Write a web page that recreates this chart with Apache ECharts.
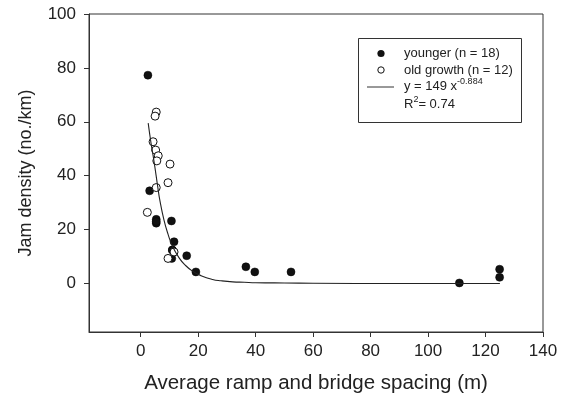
<!DOCTYPE html>
<html>
<head>
<meta charset="utf-8">
<script src="https://cdn.jsdelivr.net/npm/echarts@6/dist/echarts.min.js"></script>
<style>
html,body{margin:0;padding:0;background:#fff;}
#chart{width:566px;height:399px;}
</style>
</head>
<body>
<div id="chart"></div>
<script>
// ---- data ----
var youngerX = [2.5, 3.1, 5.4, 5.4, 5.4, 10.7, 11.6, 11.0, 11.0, 10.8, 16.0, 19.2, 36.6, 39.7, 52.3, 110.9, 124.9, 124.9];
var youngerY = [77.3, 34.4, 23.8, 22.4, 23.0, 23.2, 15.5, 12.4, 12.4, 9.3, 10.3, 4.3, 6.2, 4.3, 4.3, 0.2, 5.3, 2.3];
var oldX = [5.4, 5.0, 4.3, 5.2, 6.1, 5.6, 10.2, 9.5, 5.4, 2.3, 11.6, 9.5];
var oldY = [63.6, 62.1, 52.6, 49.5, 47.4, 45.5, 44.3, 37.4, 35.6, 26.4, 11.7, 9.3];
var fitX = [2.6, 3.6, 4.6, 6.0, 6.6, 8.1, 9.5, 11, 13.3, 15.5, 18, 21, 25, 28, 32, 36, 40, 50, 60, 90, 125];
var fitY = [59.5, 52.0, 45.5, 35.3, 31.2, 23.5, 18.3, 14, 9.6, 6.8, 4.6, 2.9, 1.5, 1.0, 0.6, 0.45, 0.3, 0.18, 0.1, 0, 0];
var xTicks = [0, 20, 40, 60, 80, 100, 120, 140];
var yTicks = [0, 20, 40, 60, 80, 100];
var seriesNames = ['younger (n = 18)', 'old growth (n = 12)'];
var fitLabel = 'y = 149 x{sup|-0.884}';
var r2Label = 'R{sup|2}= 0.74';
var xTitle = 'Average ramp and bridge spacing (m)';
var yTitle = 'Jam density (no./km)';

function pairs(xs, ys){ return xs.map(function(x,i){ return [x, ys[i]]; }); }

var FONT = '"Liberation Sans", Arial, Helvetica, sans-serif';
var ink = '#000';

var chart = echarts.init(document.getElementById('chart'), null, {renderer:'canvas'});
chart.setOption({
  animation: false,
  backgroundColor: '#fff',
  textStyle: {fontFamily: FONT},
  grid: {left: 89, right: 23, top: 14, bottom: 67, show: true, borderColor: '#333', borderWidth: 1, backgroundColor: 'transparent'},
  xAxis: {
    type: 'value', min: -18, max: 140,
    name: xTitle, nameLocation: 'middle', nameGap: 41,
    nameTextStyle: {fontSize: 20.5, color: '#222', fontFamily: FONT},
    axisLine: {show: true, onZero: false, lineStyle: {color: '#333', width: 1}},
    axisTick: {show: true, inside: false, length: 5, customValues: xTicks, lineStyle: {color: '#333'}},
    axisLabel: {show: true, customValues: xTicks, fontSize: 17, color: '#222', margin: 11, fontFamily: FONT},
    splitLine: {show: false}
  },
  yAxis: {
    type: 'value', min: -18, max: 100,
    name: yTitle, nameLocation: 'middle', nameGap: 54,
    nameTextStyle: {fontSize: 18, color: '#222', fontFamily: FONT},
    axisLine: {show: true, onZero: false, lineStyle: {color: '#333', width: 1}},
    axisTick: {show: true, inside: false, length: 5, customValues: yTicks, lineStyle: {color: '#333'}},
    axisLabel: {show: true, customValues: yTicks, fontSize: 17, color: '#222', margin: 13, fontFamily: FONT},
    splitLine: {show: false}
  },
  series: [
    {
      name: seriesNames[0], type: 'scatter', data: pairs(youngerX, youngerY),
      symbol: 'circle', symbolSize: 8,
      itemStyle: {color: '#111', borderColor: '#000', borderWidth: 0.5, opacity: 1}, z: 2
    },
    {
      name: seriesNames[1], type: 'scatter', data: pairs(oldX, oldY),
      symbol: 'circle', symbolSize: 8,
      itemStyle: {color: '#fff', borderColor: '#111', borderWidth: 1, opacity: 1}, z: 3
    },
    {
      name: 'fit', type: 'line', data: pairs(fitX, fitY),
      showSymbol: false, symbol: 'none', smooth: 0.5,
      lineStyle: {color: '#222', width: 1.1}, z: 4
    }
  ],
  graphic: [
    {type: 'rect', shape: {x: 358.5, y: 38.5, width: 163, height: 84},
     style: {fill: '#fff', stroke: '#333', lineWidth: 1}, z: 10},
    {type: 'circle', shape: {cx: 381, cy: 53.5, r: 3.6}, style: {fill: '#111'}, z: 11},
    {type: 'text', x: 404, y: 53.5, style: {text: seriesNames[0], fontSize: 13, fontFamily: FONT, fill: '#222', verticalAlign: 'middle'}, z: 11},
    {type: 'circle', shape: {cx: 381, cy: 70, r: 3.2}, style: {fill: '#fff', stroke: '#111', lineWidth: 1}, z: 11},
    {type: 'text', x: 404, y: 70, style: {text: seriesNames[1], fontSize: 13, fontFamily: FONT, fill: '#222', verticalAlign: 'middle'}, z: 11},
    {type: 'line', shape: {x1: 367, y1: 87, x2: 394, y2: 87}, style: {stroke: '#333', lineWidth: 1}, z: 11},
    {type: 'text', x: 404, y: 86, style: {text: fitLabel, fontSize: 13, fontFamily: FONT, fill: '#222', verticalAlign: 'middle',
      rich: {sup: {fontSize: 9, fontFamily: FONT, fill: '#222', verticalAlign: 'top', padding: [0,0,8,0]}}}, z: 11},
    {type: 'text', x: 404, y: 104, style: {text: r2Label, fontSize: 13, fontFamily: FONT, fill: '#222', verticalAlign: 'middle',
      rich: {sup: {fontSize: 9, fontFamily: FONT, fill: '#222', verticalAlign: 'top', padding: [0,0,8,0]}}}, z: 11}
  ]
});
</script>
</body>
</html>
